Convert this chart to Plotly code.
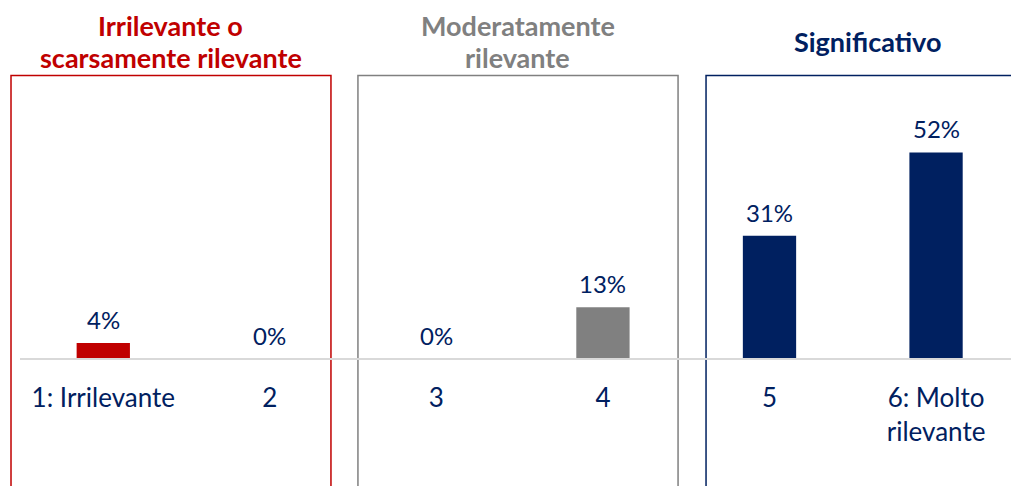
"""Relevance rating distribution, grouped in three bands."""
import plotly.graph_objects as go

categories = ["1: Irrilevante", "2", "3", "4", "5", "6: Molto<br>rilevante"]
shares = [4, 0, 0, 13, 31, 52]
bar_colors = ["#C00000", "#C00000", "#808080", "#808080", "#002060", "#002060"]

group_titles = [
    ["Irrilevante o", "scarsamente rilevante"],
    ["Moderatamente", "rilevante"],
    ["Significativo"],
]
group_colors = ["#C00000", "#808080", "#002060"]
group_spans = [(-0.554, 1.367), (1.529, 3.451), (3.619, 5.56)]

NAVY = "#002060"
FONT = "Lato, 'Source Sans Pro', sans-serif"
X_RANGE = [-0.5, 5.45]


def to_paper(x):
    """Category units -> paper fraction of the plot width."""
    return (x - X_RANGE[0]) / (X_RANGE[1] - X_RANGE[0])


fig = go.Figure(
    go.Bar(
        x=list(range(len(categories))),
        y=shares,
        width=0.32,
        marker=dict(color=bar_colors, line=dict(width=0)),
        hovertemplate="%{y}%<extra></extra>",
    )
)

# Value labels above each bar
for i, v in enumerate(shares):
    fig.add_annotation(
        x=i,
        y=v,
        text=f"{v}%",
        xref="x",
        yref="y",
        yanchor="bottom",
        yshift=7,
        showarrow=False,
        font=dict(color=NAVY, size=24, family=FONT),
    )

# Band frames and their headings (one annotation per line, 32px pitch)
for (x0, x1), lines, color in zip(group_spans, group_titles, group_colors):
    fig.add_shape(
        type="rect",
        xref="paper",
        yref="paper",
        x0=to_paper(x0),
        x1=to_paper(x1),
        y0=-0.05,
        y1=0.8447,
        line=dict(color=color, width=1.5),
        layer="below",
    )
    for k, line in enumerate(lines):
        fig.add_annotation(
            text=f"<b>{line}</b>",
            xref="paper",
            yref="paper",
            x=to_paper((x0 + x1) / 2),
            y=0.9156,
            yshift=-(k - (len(lines) - 1) / 2) * 32,
            xanchor="center",
            yanchor="middle",
            showarrow=False,
            font=dict(color=color, size=27, family=FONT),
        )

fig.update_layout(
    width=1011,
    height=486,
    margin=dict(l=20, r=0, t=0, b=0),
    paper_bgcolor="white",
    plot_bgcolor="white",
    showlegend=False,
    font=dict(family=FONT, color=NAVY, size=24),
    xaxis=dict(
        range=X_RANGE,
        tickmode="array",
        tickvals=list(range(len(categories))),
        ticktext=categories,
        anchor="free",
        position=0.2613,
        showline=True,
        linecolor="#D9D9D9",
        linewidth=2,
        showgrid=False,
        zeroline=False,
        ticks="",
        ticklabelstandoff=16,
        tickfont=dict(color=NAVY, size=26, family=FONT),
        fixedrange=True,
    ),
    yaxis=dict(
        range=[-32.0, 90.4],
        visible=False,
        showgrid=False,
        zeroline=False,
        fixedrange=True,
    ),
)

fig.write_html(
    "out.html",
    config={"displayModeBar": False},
    post_script="document.body.style.margin='0';document.body.style.overflow='hidden';",
)
